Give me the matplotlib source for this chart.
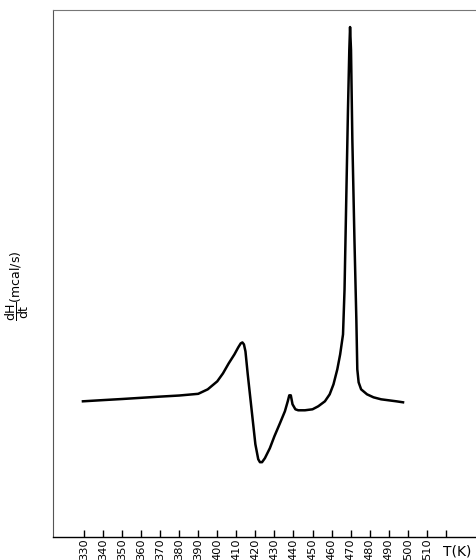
import matplotlib
matplotlib.use("Agg")
import matplotlib.pyplot as plt

# DSC trace (T in K, signal in arbitrary units)
temp = [329.5, 340, 350, 360, 370, 380, 390, 395, 400, 403, 406, 409, 411, 412.3,
        413.2, 414.0, 414.8, 416, 418, 420, 421.5, 422.4, 423.5, 425, 427.6, 430,
        432.9, 435.5, 437, 437.8, 438.6, 439.5, 441, 442.5, 446, 450, 453, 456.5,
        459, 461, 463, 464.5, 466, 466.8, 467.6, 468.6, 469.3, 469.7, 470.2, 470.9,
        472, 473, 473.5, 474.2, 475.5, 478.6, 482, 486, 490, 494, 497.5]
dhdt = [13.8, 13.92, 14.03, 14.15, 14.27, 14.38, 14.55, 15.0, 15.8, 16.6, 17.6,
        18.5, 19.2, 19.6, 19.7, 19.5, 18.8, 16.5, 13.0, 9.5, 8.0, 7.7, 7.7, 8.1,
        9.1, 10.3, 11.6, 12.8, 13.8, 14.4, 14.4, 13.5, 13.0, 12.9, 12.9, 13.0,
        13.3, 13.8, 14.5, 15.5, 17.0, 18.5, 20.5, 25.0, 33.0, 43.0, 49.0, 51.3,
        49.0, 40.0, 30.0, 22.0, 17.0, 15.7, 15.0, 14.5, 14.2, 14.0, 13.9, 13.8,
        13.7]

ticks = list(range(330, 530, 10))
labels = [str(t) for t in range(330, 520, 10)] + [""]

fig = plt.figure(figsize=(4.76, 5.60), dpi=100)
ax = fig.add_axes([0.111, 0.041, 0.889, 0.941])

ax.plot(temp, dhdt, color="black", lw=1.8, solid_joinstyle="round")

ax.set_xlim(313.7, 535.8)
ax.set_ylim(0.2, 53.0)

ax.set_xticks(ticks)
ax.set_xticklabels(labels, rotation=90, fontsize=8.2, family="DejaVu Sans Condensed")
ax.tick_params(axis="x", direction="in", length=5, width=1, pad=1)
ax.set_yticks([])

ax.spines["right"].set_visible(False)
ax.spines["left"].set_color("#555555")
ax.spines["top"].set_color("#777777")
ax.spines["bottom"].set_color("black")
ax.spines["bottom"].set_linewidth(1.0)

fig.text(0.931, 0.015, "T(K)", fontsize=10, ha="left", va="center")
fig.text(0.036, 0.49, r"$\dfrac{\mathrm{dH}}{\mathrm{dt}}$(mcal/s)", rotation=90,
         fontsize=9, ha="center", va="center")

fig.savefig("out.png", dpi=100)
